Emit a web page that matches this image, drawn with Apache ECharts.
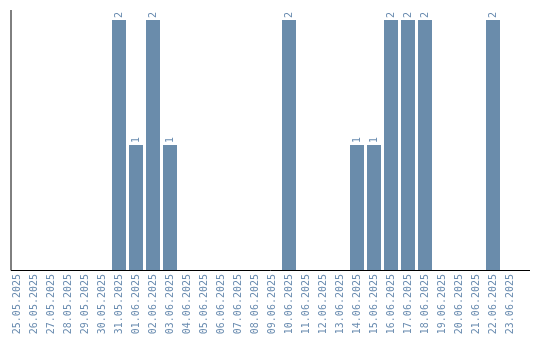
<!DOCTYPE html>
<html><head><meta charset="utf-8">
<script src="https://cdn.jsdelivr.net/npm/echarts@6/dist/echarts.min.js"></script>
<style>html,body{margin:0;padding:0;background:#fff}#c{width:540px;height:340px}</style>
</head><body><div id="c"></div>
<script>
const categories = ["25.05.2025","26.05.2025","27.05.2025","28.05.2025","29.05.2025","30.05.2025","31.05.2025","01.06.2025","02.06.2025","03.06.2025","04.06.2025","05.06.2025","06.06.2025","07.06.2025","08.06.2025","09.06.2025","10.06.2025","11.06.2025","12.06.2025","13.06.2025","14.06.2025","15.06.2025","16.06.2025","17.06.2025","18.06.2025","19.06.2025","20.06.2025","21.06.2025","22.06.2025","23.06.2025"];
const values = [0,0,0,0,0,0,2,1,2,1,0,0,0,0,0,0,2,0,0,0,1,1,2,2,2,0,0,0,2,0];
const barColor = '#6a8cab';
const labelColor = '#6a8cb0';
const chart = echarts.init(document.getElementById('c'));
chart.setOption({
  animation: false,
  grid: {left: 8.5, right: 21.5, top: 20, bottom: 70},
  xAxis: {type: 'category', data: categories,
    axisLine: {show: false}, axisTick: {show: false},
    axisLabel: {rotate: 90, interval: 0, color: labelColor, fontFamily: 'DejaVu Sans Mono', fontSize: 10, margin: 4}},
  yAxis: {type: 'value', min: 0, max: 2, show: false, splitLine: {show: false}},
  graphic: [
    {type: 'line', shape: {x1: 11, y1: 10, x2: 11, y2: 270.5}, style: {stroke: '#000', lineWidth: 1}, z: 10},
    {type: 'line', shape: {x1: 11, y1: 270.5, x2: 530, y2: 270.5}, style: {stroke: '#000', lineWidth: 1}, z: 10}
  ],
  series: [{type: 'bar', data: values.map(v => v === 0 ? null : v), barWidth: 14, itemStyle: {color: barColor},
    label: {show: true, position: 'top', rotate: 90, align: 'left', verticalAlign: 'middle', distance: 2,
      color: labelColor, fontFamily: 'DejaVu Sans Mono', fontSize: 10}}]
});
</script></body></html>
